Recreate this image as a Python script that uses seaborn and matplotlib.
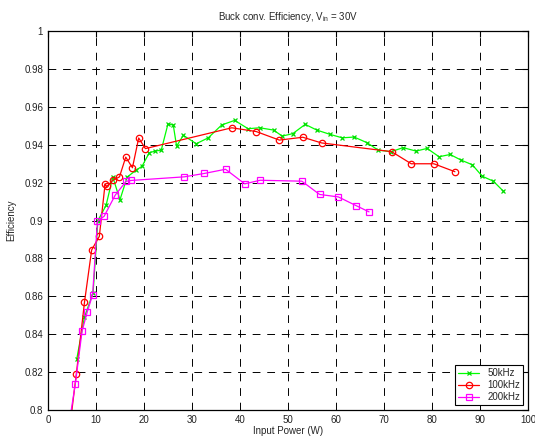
import numpy as np
import seaborn as sns
import matplotlib.pyplot as plt

# Dados (potência de entrada em W, eficiência)
p_50k = [6.0, 7.6, 9.4, 10.4, 12.1, 13.5, 15.0, 16.5, 18.3, 19.6, 21.1, 22.3, 23.6,
         25.0, 26.1, 26.8, 28.2, 30.9, 33.4, 36.2, 38.9, 41.7, 44.1, 47.0, 48.8,
         51.0, 53.6, 56.0, 58.8, 61.3, 63.8, 66.5, 68.8, 71.5, 74.0, 76.7, 79.0,
         81.5, 83.8, 86.1, 88.4, 90.5, 92.8, 94.9]
eff_50k = [0.827, 0.849, 0.862, 0.900, 0.908, 0.923, 0.911, 0.923, 0.9265, 0.9287,
           0.9358, 0.9367, 0.9372, 0.951, 0.9505, 0.9393, 0.945, 0.9406, 0.9437,
           0.9505, 0.9529, 0.9485, 0.949, 0.9478, 0.9446, 0.9459, 0.9508, 0.9478,
           0.9455, 0.9437, 0.9441, 0.9411, 0.9372, 0.9364, 0.9385, 0.9367, 0.9381,
           0.9337, 0.9349, 0.9319, 0.9295, 0.9234, 0.9208, 0.9155]

p_100k = [4.6, 5.9, 7.6, 9.1, 10.7, 11.9, 12.2, 13.5, 14.9, 16.2, 17.6, 18.9, 20.3,
          38.3, 43.4, 48.2, 53.1, 57.0, 71.6, 75.7, 80.4, 84.8]
eff_100k = [0.792, 0.8189, 0.8568, 0.8845, 0.8917, 0.9194, 0.918, 0.9212, 0.9231,
            0.9335, 0.9279, 0.9436, 0.938, 0.949, 0.947, 0.9425, 0.944, 0.941,
            0.9364, 0.930, 0.930, 0.9258]

p_200k = [4.6, 5.7, 7.1, 8.2, 9.3, 10.3, 11.7, 14.0, 16.3, 17.4, 28.4, 32.6, 37.0,
          41.0, 44.2, 52.9, 56.6, 60.5, 64.2, 66.9]
eff_200k = [0.796, 0.8139, 0.8416, 0.852, 0.8608, 0.8996, 0.9023, 0.9134, 0.9208,
            0.9212, 0.9231, 0.9249, 0.9271, 0.9194, 0.9213, 0.9208, 0.9138, 0.9125,
            0.9079, 0.9046]

sns.set_style("white")
plt.rcParams['font.family'] = ['Liberation Sans', 'DejaVu Sans']

fig = plt.figure(figsize=(5.35, 4.41), dpi=100)
ax = fig.add_axes([0.0897, 0.0703, 0.897, 0.859])

sns.lineplot(x=p_50k, y=eff_50k, sort=False, ax=ax, color='#00ff00', lw=0.9,
             marker='x', markersize=3, mec='#00dd00', mew=0.9, label='50kHz')
sns.lineplot(x=p_100k, y=eff_100k, sort=False, ax=ax, color='red', lw=0.9,
             marker='o', markersize=4.6, mfc='none', mec='red', mew=0.9, label='100kHz')
sns.lineplot(x=p_200k, y=eff_200k, sort=False, ax=ax, color='magenta', lw=0.9,
             marker='s', markersize=4.4, mfc='none', mec='magenta', mew=0.9, label='200kHz')

ax.set_xlim(0, 100)
ax.set_ylim(0.8, 1.0)
ax.set_xticks(np.arange(0, 101, 10))
ax.set_yticks(np.round(np.arange(0.8, 1.001, 0.02), 2))
ax.set_yticklabels(['0.8', '0.82', '0.84', '0.86', '0.88', '0.9', '0.92', '0.94',
                    '0.96', '0.98', '1'])
ax.grid(True, color='black', linestyle=(0, (8, 7)), linewidth=0.7)
ax.tick_params(direction='in', length=4, width=0.8, top=True, right=True,
               labelsize=7, colors='black', labelcolor='#222222')
for s in ax.spines.values():
    s.set_color('black')
    s.set_linewidth(0.9)

ax.set_xlabel('Input Power (W)', fontsize=7, labelpad=1)
ax.set_ylabel('Efficiency', fontsize=7, labelpad=6)
ax.set_title('Buck conv. Efficiency, V$_{\\mathregular{in}}$ = 30V', fontsize=7, pad=8)

leg = ax.legend(loc='lower right', fontsize=7, frameon=True, fancybox=False,
                edgecolor='black', framealpha=1, borderaxespad=0.5,
                handlelength=2.2, labelspacing=0.2, borderpad=0.3)
leg.get_frame().set_linewidth(0.8)

fig.savefig('out.png', dpi=100)
